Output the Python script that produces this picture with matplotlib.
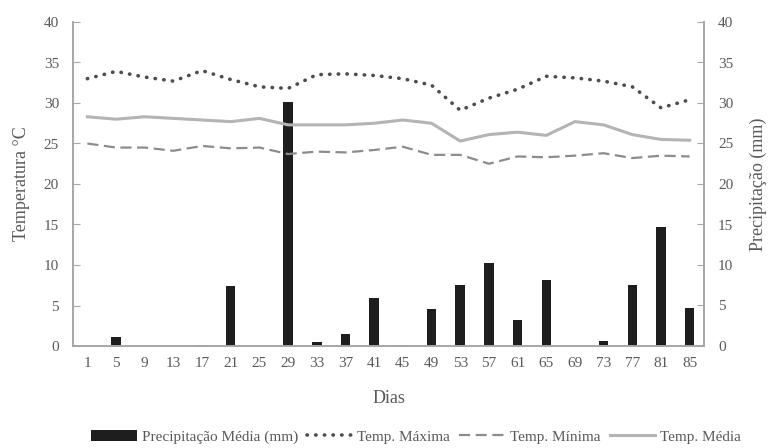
import matplotlib.pyplot as plt
import numpy as np
from matplotlib.patches import Patch
from matplotlib.lines import Line2D

plt.rcParams['font.family'] = ['Liberation Serif', 'DejaVu Serif']

dias = [1, 5, 9, 13, 17, 21, 25, 29, 33, 37, 41, 45, 49, 53, 57, 61, 65, 69, 73, 77, 81, 85]
precip = [0, 1.15, 0, 0, 0.12, 7.45, 0, 30.1, 0.45, 1.43, 5.94, 0.12,
          4.55, 7.54, 10.2, 3.24, 8.2, 0, 0.66, 7.54, 14.7, 4.63]
t_max = [33.0, 33.9, 33.2, 32.7, 34.0, 32.9, 32.0, 31.8, 33.5, 33.6, 33.4, 33.0,
         32.2, 29.1, 30.6, 31.7, 33.3, 33.1, 32.7, 32.0, 29.4, 30.4]
t_min = [25.0, 24.5, 24.5, 24.1, 24.7, 24.4, 24.5, 23.7, 24.0, 23.9, 24.2, 24.6,
         23.6, 23.6, 22.5, 23.4, 23.3, 23.5, 23.8, 23.2, 23.5, 23.4]
t_med = [28.3, 28.0, 28.3, 28.1, 27.9, 27.7, 28.1, 27.3, 27.3, 27.3, 27.5, 27.9,
         27.5, 25.3, 26.1, 26.4, 26.0, 27.7, 27.3, 26.1, 25.5, 25.4]

txt = '#595959'
spine = '#a6a6a6'
x = np.arange(len(dias))

dot_style = dict(color='#4d4d4d', lw=2.6, linestyle=(0, (0.1, 2.3)), dash_capstyle='round')
dash_style = dict(color='#8c8c8c', lw=1.6, linestyle=(0, (5, 2.5)))
solid_style = dict(color='#b4b4b4', lw=2.2)

fig = plt.figure(figsize=(7.69, 4.48), dpi=100)
ax = fig.add_axes([73 / 769, 1 - 346 / 448, (704 - 73) / 769, (346 - 22) / 448])
ax2 = ax.twinx()

# bars on the right axis, lines on the left axis
ax2.bar(x, precip, width=0.33, color='#1e1e1e', zorder=2)
ax.plot(x, t_max, zorder=3, **dot_style)
ax.plot(x, t_min, zorder=3, **dash_style)
ax.plot(x, t_med, zorder=3, **solid_style)

ax.set_zorder(ax2.get_zorder() + 1)
ax.patch.set_visible(False)

for a in (ax, ax2):
    a.set_ylim(0, 40)
    a.set_yticks(range(0, 41, 5))
    a.set_xlim(-0.5, len(dias) - 0.5)
    a.spines['top'].set_visible(False)
    for s in ('left', 'right', 'bottom'):
        a.spines[s].set_color(spine)
        a.spines[s].set_linewidth(1.2)
    a.tick_params(axis='y', colors=spine, labelcolor=txt, labelsize=11,
                  length=5, direction='in', pad=10)

ax.set_xticks(x)
ax.set_xticklabels([str(d) for d in dias])
ax.tick_params(axis='x', length=0, labelcolor=txt, labelsize=11, pad=8)

ax.set_xlabel('Dias', color=txt, fontsize=13, labelpad=14)
ax.set_ylabel('Temperatura °C', color=txt, fontsize=13, labelpad=10)
ax2.set_ylabel('Precipitação (mm)', color=txt, fontsize=13, labelpad=12)

handles = [
    Patch(facecolor='#1e1e1e'),
    Line2D([], [], **dot_style),
    Line2D([], [], **dash_style),
    Line2D([], [], **solid_style),
]
labels = ['Precipitação Média (mm)', 'Temp. Máxima', 'Temp. Mínima', 'Temp. Média']
leg = fig.legend(handles, labels, loc='center', bbox_to_anchor=(416 / 769, 1 - 437 / 448),
                 ncol=4, frameon=False, fontsize=11, handlelength=3.0,
                 handletextpad=0.3, columnspacing=0.6)
for t in leg.get_texts():
    t.set_color(txt)

fig.savefig('out.png', dpi=100)
